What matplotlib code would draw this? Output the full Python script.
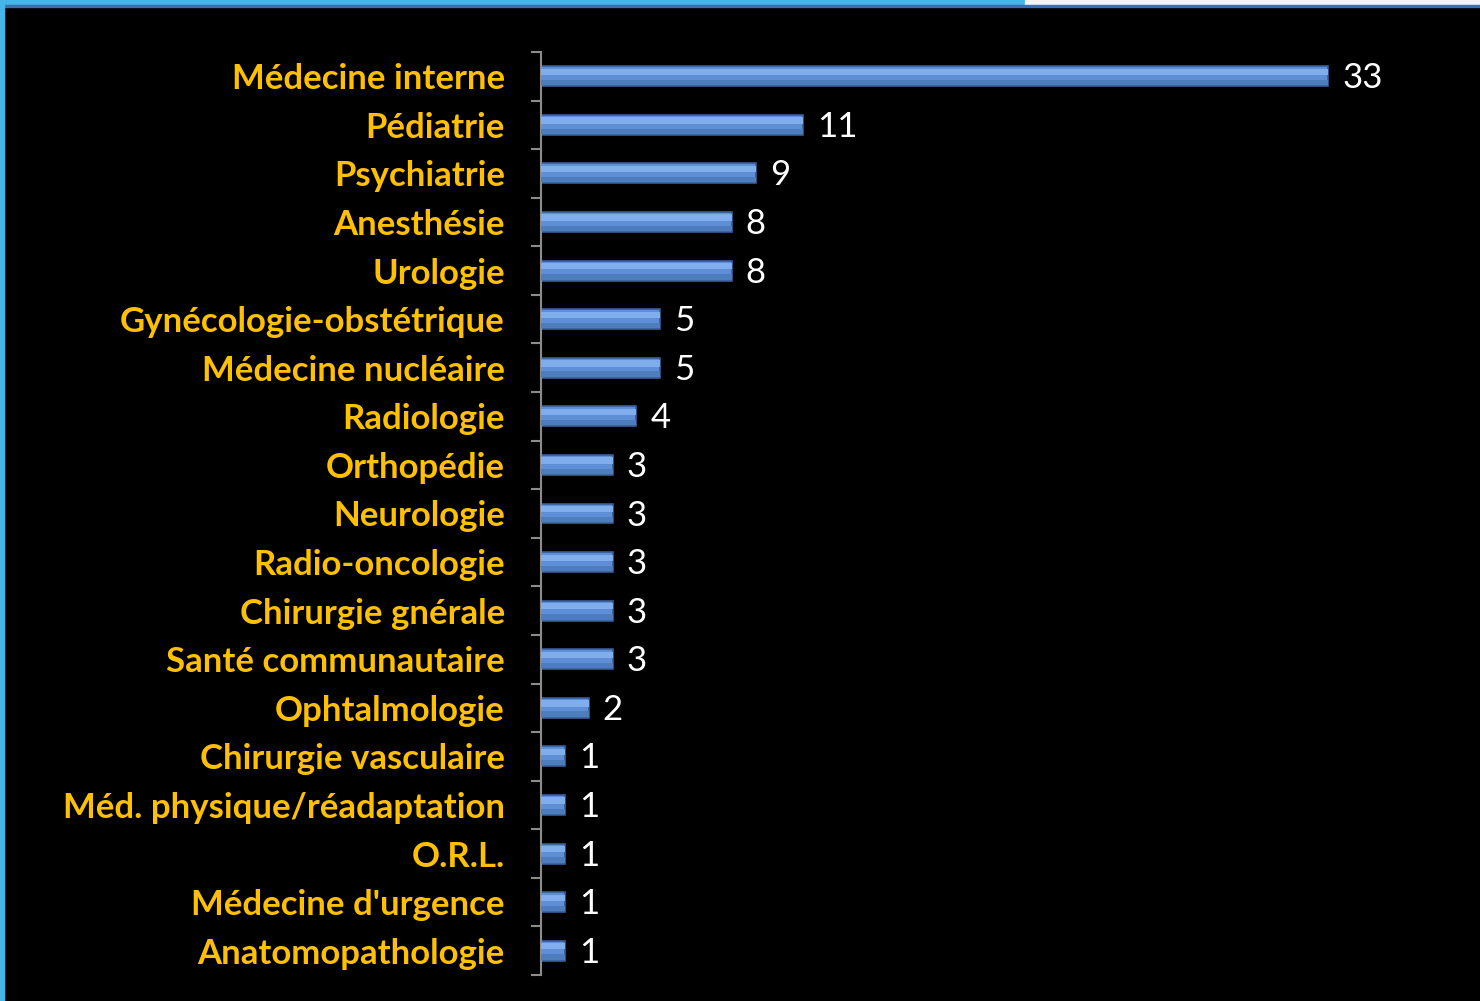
import matplotlib
matplotlib.use("Agg")
import matplotlib.pyplot as plt
from matplotlib.patches import Rectangle

categories = ["Médecine interne", "Pédiatrie", "Psychiatrie", "Anesthésie", "Urologie",
              "Gynécologie-obstétrique", "Médecine nucléaire", "Radiologie", "Orthopédie",
              "Neurologie", "Radio-oncologie", "Chirurgie gnérale", "Santé communautaire",
              "Ophtalmologie", "Chirurgie vasculaire", "Méd. physique/réadaptation", "O.R.L.",
              "Médecine d'urgence", "Anatomopathologie"]
values = [33, 11, 9, 8, 8, 5, 5, 4, 3, 3, 3, 3, 3, 2, 1, 1, 1, 1, 1]

W, H = 1480, 1001
fig = plt.figure(figsize=(W / 100, H / 100), dpi=100)
fig.patch.set_facecolor("black")

# frame decorations
fig.patches.append(Rectangle((0, 1 - 5 / H), 1025 / W, 5 / H, transform=fig.transFigure,
                             color="#45b4e6", zorder=0))
fig.patches.append(Rectangle((1025 / W, 1 - 5 / H), 1 - 1025 / W, 5 / H, transform=fig.transFigure,
                             color="#f4f4f8", zorder=0))
fig.patches.append(Rectangle((0, 1 - 7 / H), 1, 2 / H, transform=fig.transFigure,
                             color="#3a6fb0", zorder=0))
fig.patches.append(Rectangle((0, 0), 4 / W, 1, transform=fig.transFigure,
                             color="#45b4e6", zorder=0))

x0, x1 = 541, 1440
y_top, y_bot = 52, 975
ax = fig.add_axes([x0 / W, 1 - y_bot / H, (x1 - x0) / W, (y_bot - y_top) / H])
ax.set_facecolor("black")

n = len(categories)
pos = list(range(n))
ax.barh(pos, values, height=0.41, color="#5e8fd6", edgecolor="#375d96", linewidth=1.2, zorder=2)
ax.barh([p - 0.09 for p in pos], values, height=0.13, color="#80aeec", linewidth=0, zorder=3)
ax.barh([p + 0.13 for p in pos], values, height=0.11, color="#4e7dbd", linewidth=0, zorder=3)

ax.set_ylim(n - 0.5, -0.5)
ax.set_xlim(0, (x1 - x0) / 23.85)

for s in ["top", "right", "bottom"]:
    ax.spines[s].set_visible(False)
ax.spines["left"].set_color("#8c8c8c")
ax.spines["left"].set_linewidth(1.5)
ax.set_xticks([])

ax.set_yticks([i - 0.5 for i in range(n + 1)])
ax.set_yticklabels([])
ax.tick_params(axis="y", which="major", length=7, width=1.5, color="#8c8c8c", direction="out")
ax.set_yticks(pos, minor=True)
ax.set_yticklabels(categories, minor=True, fontsize=25, fontweight="bold", color="#ffc000",
                   family=["Lato", "DejaVu Sans"])
ax.tick_params(axis="y", which="minor", length=0, pad=26)

for p, v in zip(pos, values):
    ax.annotate(str(v), (v, p), xytext=(14, -2), textcoords="offset pixels",
                va="center", ha="left", fontsize=25, color="white", family=["Lato", "DejaVu Sans"])

fig.savefig("out.png", dpi=100, facecolor=fig.get_facecolor())
